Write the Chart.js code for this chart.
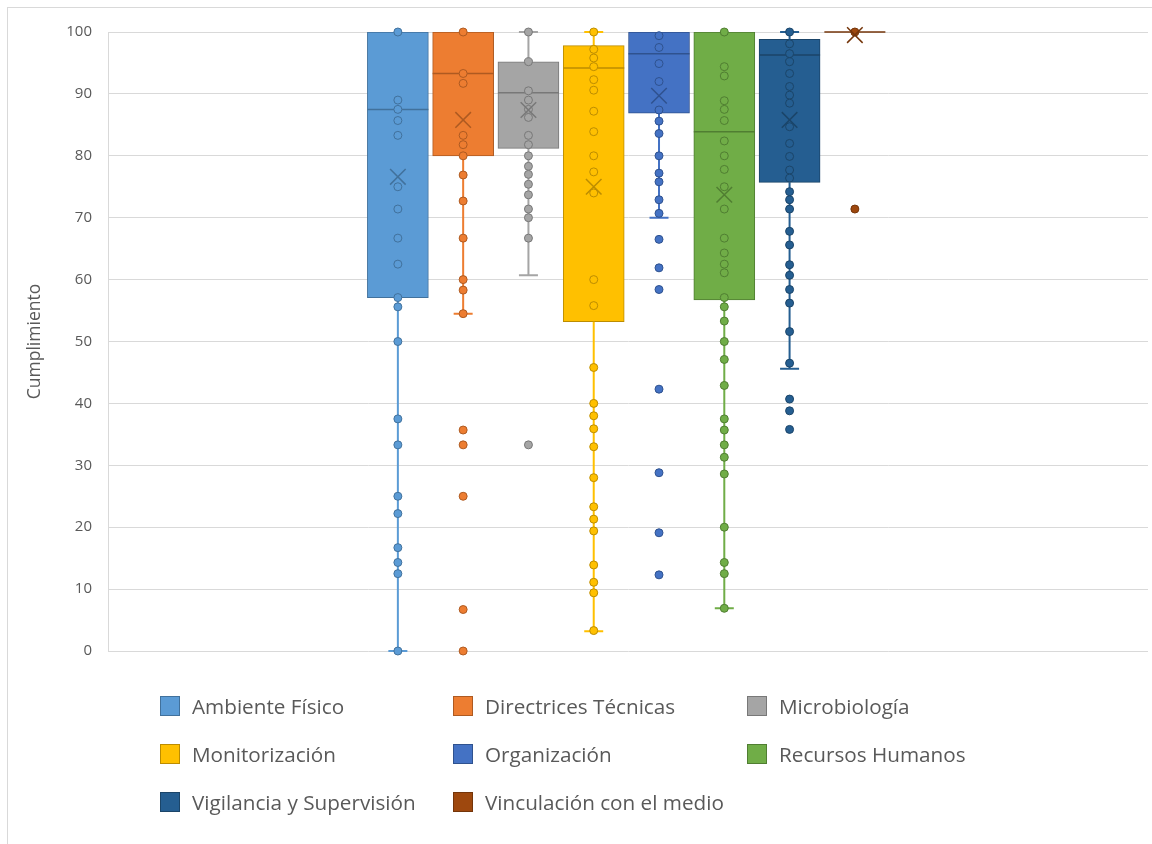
<!DOCTYPE html>
<html lang="es">
<head>
<meta charset="utf-8">
<title>Cumplimiento por ámbito</title>
<script src="https://cdn.jsdelivr.net/npm/chart.js@4.4.1/dist/chart.umd.min.js"></script>
<style>
  html, body { margin: 0; padding: 0; background: #ffffff; }
  body { width: 1152px; height: 844px; position: relative; overflow: hidden; font-family: "Open Sans", "Noto Sans", sans-serif; }
  #frame { position: absolute; left: 7px; top: 7px; width: 1200px; height: 900px; border: 1px solid #d9d9d9; box-sizing: border-box; }
  #wrap { position: absolute; left: 0; top: 0; width: 1152px; height: 680px; }
  #legend { position: absolute; left: 0; top: 0; width: 1152px; height: 844px; pointer-events: none; }
  .item { position: absolute; display: flex; align-items: center; height: 24px; }
  .swatch { width: 20px; height: 20px; box-sizing: border-box; border: 1px solid; margin-right: 12px; }
  .label { font-size: 20.7px; color: #595959; white-space: nowrap; line-height: 24px; }
</style>
</head>
<body>
<div id="frame"></div>
<div id="wrap"><canvas id="chart" width="1152" height="680"></canvas></div>
<div id="legend"></div>
<script>
// Ámbitos evaluados (one box per ámbito)
const categories = [
  "Ambiente Físico", "Directrices Técnicas", "Microbiología", "Monitorización",
  "Organización", "Recursos Humanos", "Vigilancia y Supervisión", "Vinculación con el medio"
];

// Individual compliance scores per ámbito
const ambienteFisico = [100, 89, 87.5, 85.7, 83.3, 75, 71.4, 66.7, 62.5, 57.1, 55.6, 50, 37.5, 33.3, 25, 22.2, 16.7, 14.3, 12.5, 0];
const directricesTecnicas = [100, 93.3, 91.7, 83.3, 81.8, 80, 76.9, 72.7, 66.7, 60, 58.3, 54.5, 35.7, 33.3, 25, 6.7, 0];
const microbiologia = [100, 95.2, 90.5, 89, 87.5, 86.2, 83.3, 81.8, 80, 78.3, 77, 75.4, 73.7, 71.4, 70, 66.7, 33.3];
const monitorizacion = [100, 97.2, 95.8, 94.4, 92.3, 90.6, 87.2, 83.9, 80, 77.4, 74, 60, 55.8, 45.8, 40, 38, 35.9, 33, 28, 23.3, 21.3, 19.4, 13.9, 11.1, 9.4, 3.3];
const organizacion = [99.4, 97.5, 94.9, 92, 87.4, 85.6, 83.6, 80, 77.2, 75.8, 72.9, 70.7, 66.5, 61.9, 58.4, 42.3, 28.8, 19.1, 12.3];
const recursosHumanos = [100, 94.4, 92.9, 88.9, 87.5, 85.7, 82.4, 80, 77.8, 75, 71.4, 66.7, 64.3, 62.5, 61.1, 57.1, 55.6, 53.3, 50, 47.1, 42.9, 37.5, 35.7, 33.3, 31.3, 28.6, 20, 14.3, 12.5, 6.9];
const vigilancia = [100, 98.1, 96.5, 95.2, 93.3, 91.2, 89.8, 88.5, 84.7, 82, 79.9, 77.7, 76.4, 74.2, 72.9, 71.4, 67.8, 65.6, 62.4, 60.7, 58.4, 56.2, 51.6, 46.5, 40.7, 38.8, 35.8];
const vinculacion = [100, 71.4];

const scores = [ambienteFisico, directricesTecnicas, microbiologia, monitorizacion,
                organizacion, recursosHumanos, vigilancia, vinculacion];

// Box-and-whisker summaries per ámbito
const q1 = [57.1, 80, 81.2, 53.2, 86.9, 56.7, 75.7, 100];
const median = [87.5, 93.3, 90.2, 94.2, 96.5, 83.9, 96.3, 100];
const q3 = [100, 100, 95.2, 97.8, 100, 100, 98.8, 100];
const mean = [76.6, 85.8, 87.4, 75.0, 89.7, 73.7, 85.8, 99.5];
const whiskerLow = [0, 54.5, 60.7, 3.2, 70, 6.9, 45.6, 100];
const whiskerHigh = [100, 100, 100, 100, 100, 100, 100, 100];

// Value axis ticks
const yTicks = [0, 10, 20, 30, 40, 50, 60, 70, 80, 90, 100];

// Styling
const fillColors = ["#5B9BD5", "#ED7D31", "#A5A5A5", "#FFC000", "#4472C4", "#70AD47", "#255E91", "#9E480E"];
const lineColors = ["#41719C", "#AE5A21", "#787878", "#BC8C00", "#2F528F", "#507E32", "#1B4569", "#74350A"];
const positions = categories.map((_, i) => i + 1);
const X_MIN = -3.44, X_MAX = 12.49;
const BOX_PX = 61, CAP_PX = 19;

const boxDataset = {
  type: "bar",
  label: "boxes",
  data: positions.map((p, i) => ({ x: p, y: [q1[i], q3[i]] })),
  backgroundColor: fillColors,
  borderColor: lineColors,
  borderWidth: 1,
  borderSkipped: false,
  barThickness: BOX_PX,
  grouped: false,
  order: 3
};

const pointDatasets = scores.map((vals, i) => ({
  type: "scatter",
  label: categories[i],
  data: vals.map(v => ({ x: positions[i], y: v })),
  pointStyle: "circle",
  pointRadius: 4,
  pointBackgroundColor: fillColors[i],
  pointBorderColor: lineColors[i],
  pointBorderWidth: 1,
  clip: false,
  order: 2
}));

const meanDataset = {
  type: "scatter",
  label: "media",
  data: positions.map((p, i) => ({ x: p, y: mean[i] })),
  pointStyle: "crossRot",
  pointRadius: 11,
  pointBorderColor: lineColors,
  pointBorderWidth: 1.5,
  clip: false,
  order: 1
};

// Whiskers, caps and median lines drawn right after the boxes
const whiskerPlugin = {
  id: "whiskers",
  afterDatasetDraw(chart, args) {
    if (args.index !== 0) return;
    const { ctx, scales: { x, y } } = chart;
    ctx.save();
    positions.forEach((p, i) => {
      const cx = x.getPixelForValue(p);
      ctx.strokeStyle = fillColors[i];
      ctx.lineWidth = 2;
      const segs = [];
      if (whiskerLow[i] < q1[i]) segs.push([q1[i], whiskerLow[i]]);
      if (whiskerHigh[i] > q3[i]) segs.push([q3[i], whiskerHigh[i]]);
      segs.forEach(([from, to]) => {
        const y0 = y.getPixelForValue(from), y1 = y.getPixelForValue(to);
        ctx.beginPath();
        ctx.moveTo(cx, y0); ctx.lineTo(cx, y1);
        ctx.moveTo(cx - CAP_PX / 2, y1); ctx.lineTo(cx + CAP_PX / 2, y1);
        ctx.stroke();
      });
      const my = y.getPixelForValue(median[i]);
      ctx.strokeStyle = lineColors[i];
      ctx.lineWidth = 1.5;
      ctx.beginPath();
      ctx.moveTo(cx - BOX_PX / 2, my); ctx.lineTo(cx + BOX_PX / 2, my);
      ctx.stroke();
    });
    ctx.restore();
  }
};

const font = { family: "'Open Sans', 'Noto Sans', sans-serif" };

const chart = new Chart(document.getElementById("chart"), {
  type: "bar",
  data: { datasets: [boxDataset, ...pointDatasets, meanDataset] },
  options: {
    responsive: false,
    animation: false,
    layout: { autoPadding: false, padding: { top: 32, bottom: 29, left: 0, right: 4 } },
    plugins: { legend: { display: false }, tooltip: { enabled: false } },
    scales: {
      x: { type: "linear", min: X_MIN, max: X_MAX, offset: false, display: false },
      y: {
        type: "linear",
        min: 0, max: 100,
        afterBuildTicks(scale) { scale.ticks = yTicks.map(v => ({ value: v })); },
        afterFit(scale) { scale.width = 108; },
        ticks: { color: "#595959", padding: 16, font: { ...font, size: 15 } },
        grid: { color: "#d9d9d9", lineWidth: 1, drawTicks: false },
        border: { color: "#d9d9d9", width: 1 },
        title: {
          display: true, text: "Cumplimiento", color: "#595959",
          font: { ...font, size: 17.5 }, padding: { top: 25, bottom: 0 }
        }
      }
    }
  },
  plugins: [whiskerPlugin]
});

// Three-column legend built from the chart's ámbitos
const legendEl = document.getElementById("legend");
const colLeft = [160, 453, 747];
const rowCenter = [706, 754, 802];
categories.forEach((name, i) => {
  const item = document.createElement("div");
  item.className = "item";
  item.style.left = colLeft[i % 3] + "px";
  item.style.top = (rowCenter[Math.floor(i / 3)] - 12) + "px";
  const sw = document.createElement("div");
  sw.className = "swatch";
  sw.style.background = fillColors[i];
  sw.style.borderColor = lineColors[i];
  const lb = document.createElement("span");
  lb.className = "label";
  lb.textContent = name;
  item.appendChild(sw);
  item.appendChild(lb);
  legendEl.appendChild(item);
});
</script>
</body>
</html>
